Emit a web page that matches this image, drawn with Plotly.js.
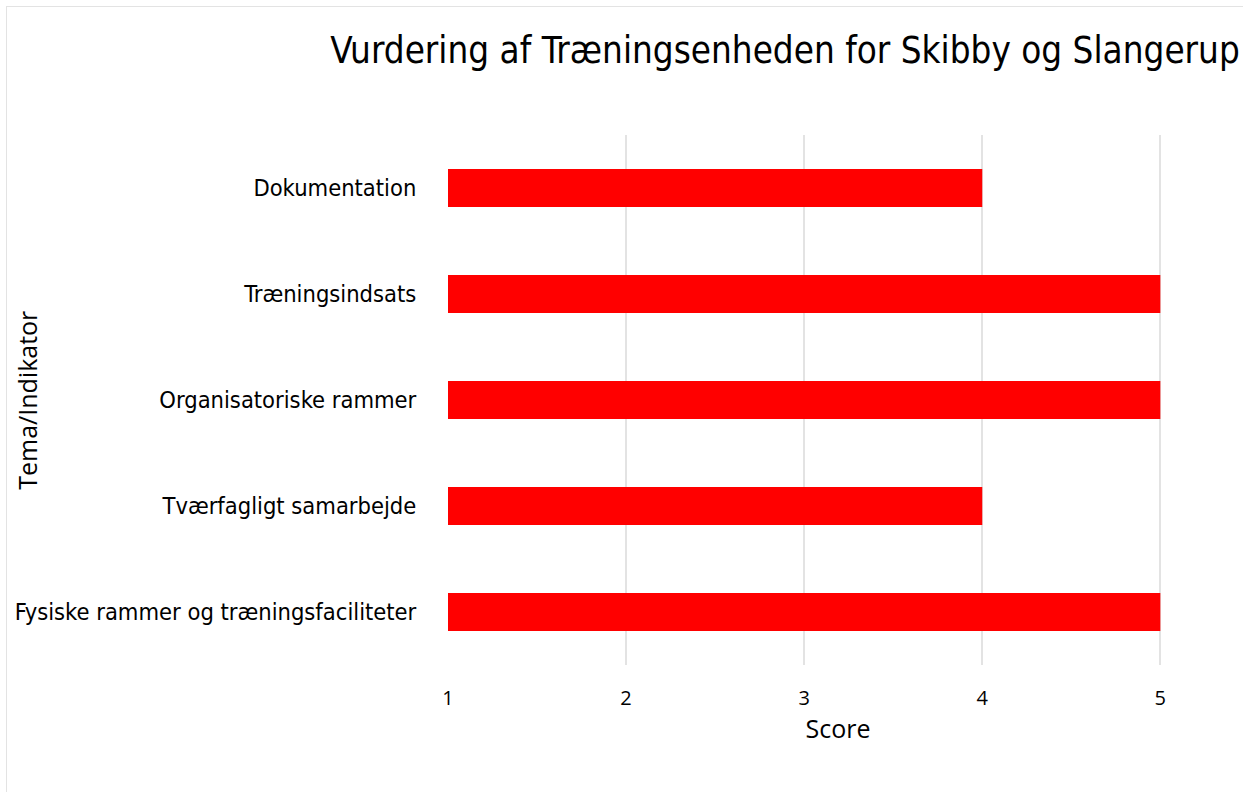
<!DOCTYPE html>
<html>
<head>
<meta charset="utf-8">
<script src="https://cdn.plot.ly/plotly-3.0.1.min.js"></script>
<style>
  html, body { margin: 0; padding: 0; background: #ffffff; }
  #frame { position: absolute; left: 6px; top: 6px; width: 1300px; height: 850px;
           border-left: 1px solid #e3e3e3; border-top: 1px solid #e3e3e3; }
  #chart { position: absolute; left: 0; top: 0; width: 1243px; height: 792px; }
</style>
</head>
<body>
<div id="frame"></div>
<div id="chart"></div>
<script>
const categories = [
  "Fysiske rammer og træningsfaciliteter",
  "Tværfagligt samarbejde",
  "Organisatoriske rammer",
  "Træningsindsats",
  "Dokumentation"
];
const scores = [5, 4, 5, 5, 4];
const xTicks = [1, 2, 3, 4, 5];

const LABEL_FONT = "DejaVu Sans Condensed, DejaVu Sans, sans-serif";
const AXIS_FONT = "Open Sans, Noto Sans, sans-serif";

const trace = {
  type: "bar",
  orientation: "h",
  y: categories,
  x: scores,
  marker: { color: "#ff0000" },
  width: 0.36,
  hoverinfo: "x+y"
};

const layout = {
  width: 1243,
  height: 792,
  paper_bgcolor: "rgba(0,0,0,0)",
  plot_bgcolor: "rgba(0,0,0,0)",
  margin: { l: 448, r: 15, t: 135, b: 127 },
  font: { family: LABEL_FONT, size: 23.5, color: "#000000" },
  title: {
    text: "Vurdering af Træningsenheden for Skibby og Slangerup",
    font: { family: LABEL_FONT, size: 36.5, color: "#000000" },
    xref: "paper", x: 0.432, xanchor: "center",
    yref: "container", y: 0.937, yanchor: "middle"
  },
  xaxis: {
    range: [1, 5.38],
    tickvals: xTicks,
    ticktext: xTicks.map(String),
    showgrid: true,
    gridcolor: "#e3e3e3",
    gridwidth: 2,
    zeroline: false,
    showline: false,
    ticks: "outside",
    ticklen: 15,
    tickcolor: "rgba(0,0,0,0)",
    tickfont: { family: AXIS_FONT, size: 20, color: "#000000" },
    title: { text: "Score", font: { family: AXIS_FONT, size: 25, color: "#000000" }, standoff: 6 }
  },
  yaxis: {
    type: "category",
    categoryorder: "array",
    categoryarray: categories,
    range: [-0.5, 4.5],
    showgrid: false,
    zeroline: false,
    showline: false,
    ticks: "outside",
    ticklen: 26,
    tickcolor: "rgba(0,0,0,0)",
    tickfont: { family: LABEL_FONT, size: 23.5, color: "#000000" }
  },
  annotations: [{
    text: "Tema/Indikator",
    xref: "paper", yref: "paper",
    x: -0.54, y: 0.5,
    xanchor: "center", yanchor: "middle",
    textangle: -90,
    showarrow: false,
    font: { family: AXIS_FONT, size: 25, color: "#000000" }
  }],
  showlegend: false
};

Plotly.newPlot("chart", [trace], layout, { displayModeBar: false, responsive: false });
</script>
</body>
</html>
